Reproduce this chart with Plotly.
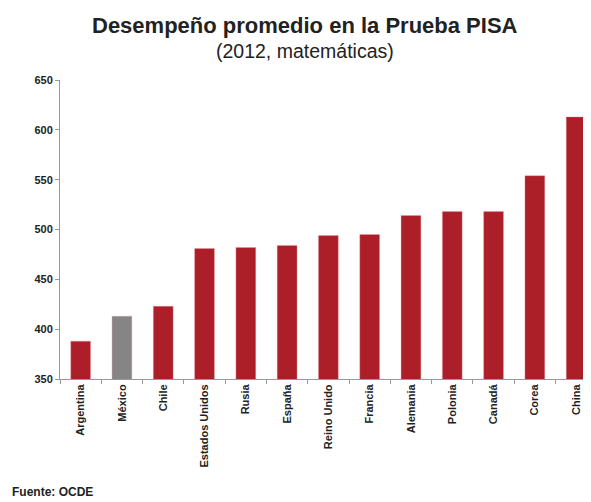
import plotly.graph_objects as go

# PISA 2012, matemáticas
paises = ["Argentina", "México", "Chile", "Estados Unidos", "Rusia", "España",
          "Reino Unido", "Francia", "Alemania", "Polonia", "Canadá", "Corea", "China"]
puntajes = [388, 413, 423, 481, 482, 484, 494, 495, 514, 518, 518, 554, 613]

rojo = "#AD1F28"
gris = "#858585"
colores = [gris if p == "México" else rojo for p in paises]

fig = go.Figure(go.Bar(
    x=paises,
    y=puntajes,
    marker=dict(color=colores, line=dict(color="rgba(230,160,165,0.6)", width=0.6)),
    width=0.48,
))

# la página tiene 8px de margen en el body, se compensa en los márgenes
fig.update_layout(
    width=591,
    height=502,
    paper_bgcolor="white",
    plot_bgcolor="white",
    font=dict(family="Liberation Sans, Arial, sans-serif", color="#222"),
    margin=dict(l=52, r=8, t=72, b=131, autoexpand=False),
    showlegend=False,
)

fig.add_annotation(text="<b>Desempeño promedio en la Prueba PISA</b>", xref="paper", yref="paper",
                   x=0.461, y=1, yshift=55, showarrow=False, font=dict(size=22, color="#222"),
                   xanchor="center", yanchor="middle")
fig.add_annotation(text="(2012, matemáticas)", xref="paper", yref="paper",
                   x=0.461, y=1, yshift=29, showarrow=False, font=dict(size=19.5, color="#222"),
                   xanchor="center", yanchor="middle")
fig.add_annotation(text="<b>Fuente: OCDE</b>", xref="paper", yref="paper",
                   x=-0.094, y=0, yshift=-113, showarrow=False, font=dict(size=12, color="#222"),
                   xanchor="left", yanchor="middle")

fig.update_yaxes(
    range=[350, 650],
    showgrid=False,
    showline=True,
    linecolor="#999",
    linewidth=1,
    ticks="outside",
    ticklen=4,
    tickcolor="#999",
    tickfont=dict(size=11, color="#222"),
    zeroline=False,
    automargin=False,
    tickvals=list(range(350, 651, 50)),
    ticktext=[f"<b>{v}</b>" for v in range(350, 651, 50)],
)

fig.update_xaxes(
    range=[-0.5, 12.36],
    showline=True,
    linecolor="#999",
    linewidth=1,
    ticks="outside",
    tickson="boundaries",
    ticklen=4,
    tickcolor="#999",
    tickangle=-90,
    tickfont=dict(size=11, color="#222"),
    automargin=False,
    tickvals=paises,
    ticktext=[f"<b>{p}</b>" for p in paises],
)

fig.write_html("out.html")
